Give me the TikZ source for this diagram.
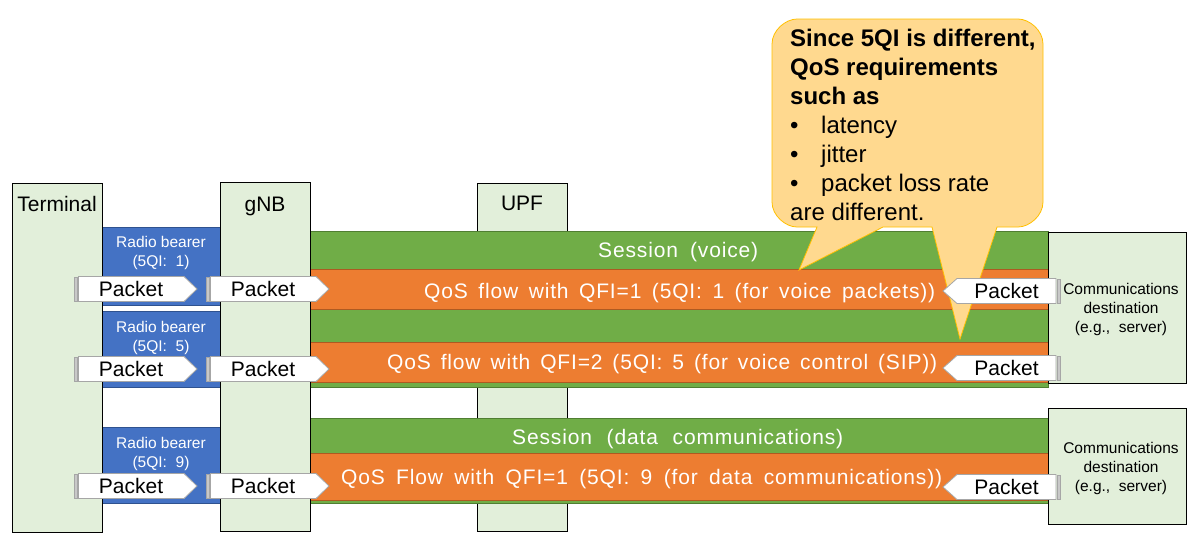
\documentclass[tikz,border=0pt]{standalone}
\usepackage{fontspec}
\setmainfont{Liberation Sans}
\newfontfamily\widefont[LetterSpace=4]{Liberation Sans}
\definecolor{lgreen}{HTML}{E2EFDA}
\definecolor{sgreen}{HTML}{70AD47}
\definecolor{dgreen}{HTML}{507E32}
\definecolor{orng}{HTML}{ED7D31}
\definecolor{dorng}{HTML}{AE5A21}
\definecolor{blu}{HTML}{4472C4}
\definecolor{dblu}{HTML}{2F528F}
\definecolor{pktgray}{HTML}{A6A6A6}
\definecolor{stripegray}{HTML}{C8C8C8}
\definecolor{callfill}{HTML}{FFD98F}
\definecolor{calldraw}{HTML}{FFC000}
\newcommand\bul{\makebox[31pt][l]{\textbullet}}
\newcommand\pktR[3]{%
  \filldraw[stripe] (#2,#3-12) rectangle (#2+3.5,#3+12);
  \draw[pkt] (#2+4.5,#3-12.5) -- (#2+110,#3-12.5) -- (#2+123,#3) -- (#2+110,#3+12.5) -- (#2+4.5,#3+12.5) -- cycle;
  \node[lbl] (#1) at (#2+57,#3+7.5) {Packet};
}
\newcommand\pktL[3]{%
  \draw[pkt] (#2,#3) -- (#2+14,#3-12.5) -- (#2+113,#3-12.5) -- (#2+113,#3+12.5) -- (#2+14,#3+12.5) -- cycle;
  \filldraw[stripe] (#2+114,#3-12) rectangle (#2+117.5,#3+12);
  \node[lbl] (#1) at (#2+63.5,#3+7.5) {Packet};
}
\begin{document}
\begin{tikzpicture}[x=1pt,y=-1pt,
  entity/.style={draw=black, line width=0.8pt, fill=lgreen},
  band/.style={fill=sgreen, draw=dgreen, line width=0.8pt},
  flow/.style={fill=orng, draw=dorng, line width=0.8pt},
  bearer/.style={fill=blu, draw=dblu, line width=0.8pt},
  pkt/.style={fill=white, draw=pktgray, line width=0.8pt},
  stripe/.style={fill=stripegray, draw=pktgray, line width=0.5pt},
  lbl/.style={font=\fontsize{21}{25}\selectfont, inner sep=0pt, anchor=base},
  wlbl/.style={font=\fontsize{21}{25}\selectfont\widefont, inner sep=0pt, anchor=base west, text=white},
  small/.style={font=\fontsize{15.5}{19}\selectfont, align=center, inner sep=0pt, anchor=north},
  callout/.style={fill=callfill, draw=calldraw, line width=0.8pt},
  calltext/.style={font=\fontsize{24}{29}\selectfont, align=left, inner sep=0pt, anchor=north west}
]
\useasboundingbox (0,0) rectangle (1196,550);
% UPF (behind the sessions)
\draw[entity] (477,183) rectangle (567,531);
% sessions and flows
\draw[band] (310,231) rectangle (1048,387);
\draw[band] (310,418) rectangle (1048,503);
\draw[flow] (310,269) rectangle (1048,309);
\draw[flow] (310,342) rectangle (1048,382);
\draw[flow] (310,453) rectangle (1048,500);
% radio bearers
\draw[bearer] (102,227) rectangle (220,305);
\draw[bearer] (102,311) rectangle (220,387);
\draw[bearer] (102,427) rectangle (220,503);
% terminal, gNB, destinations
\draw[entity] (12,183) rectangle (102,532);
\draw[entity] (220,182) rectangle (310,531);
\draw[entity] (1048,232) rectangle (1186,383);
\draw[entity] (1048,408) rectangle (1186,524);
% labels
\node[lbl] (terminal) at (57,211) {Terminal};
\node[lbl] (gnb) at (265,211) {gNB};
\node[lbl] (upf) at (522,210) {UPF};
\node[small, text=white] (rb1) at (161,236) {Radio bearer\\(5QI:~ 1)};
\node[small, text=white] (rb2) at (161,321) {Radio bearer\\(5QI:~ 5)};
\node[small, text=white] (rb3) at (161,437) {Radio bearer\\(5QI:~ 9)};
\node[small] (dest1) at (1121,283) {Communications\\destination\\(e.g.,~ server)};
\node[small] (dest2) at (1121,442) {Communications\\destination\\(e.g.,~ server)};
\node[wlbl] (sessvoice) at (598,257.5) {\makebox[160pt][s]{Session (voice)}};
\node[wlbl] (sessdata) at (512,444) {\makebox[331pt][s]{Session (data communications)}};
\node[wlbl] (flow1) at (424,298) {\makebox[511pt][s]{QoS flow with QFI=1 (5QI: 1 (for voice packets))}};
\node[wlbl] (flow2) at (387,369) {\makebox[550pt][s]{QoS flow with QFI=2 (5QI: 5 (for voice control (SIP))}};
\node[wlbl] (flow3) at (341,484) {\makebox[601pt][s]{QoS Flow with QFI=1 (5QI: 9 (for data communications))}};
% callout
\draw[callout] (772,44) .. controls (772,30.2) and (785.8,19) .. (797,19)
  -- (1018,19) .. controls (1029.2,19) and (1043,30.2) .. (1043,44)
  -- (1043,202) .. controls (1043,215.8) and (1029.2,227) .. (1018,227)
  -- (997,227) -- (960,339) -- (932,227) -- (883,227) -- (799,270) -- (817,227)
  -- (797,227) .. controls (785.8,227) and (772,215.8) .. (772,202) -- cycle;
\node[calltext] (note) at (790,29) {\textbf{Since 5QI is different,}\\\textbf{QoS requirements}\\\textbf{such as}\\\bul latency\\\bul jitter\\\bul packet loss rate\\are different.};
% packets
\pktR{p1a}{74}{289}
\pktR{p1b}{206}{289}
\pktR{p2a}{74}{369}
\pktR{p2b}{206}{369}
\pktR{p3a}{74}{486}
\pktR{p3b}{206}{486}
\pktL{p1c}{943}{291}
\pktL{p2c}{943}{368}
\pktL{p3c}{943}{487}
\end{tikzpicture}
\end{document}
